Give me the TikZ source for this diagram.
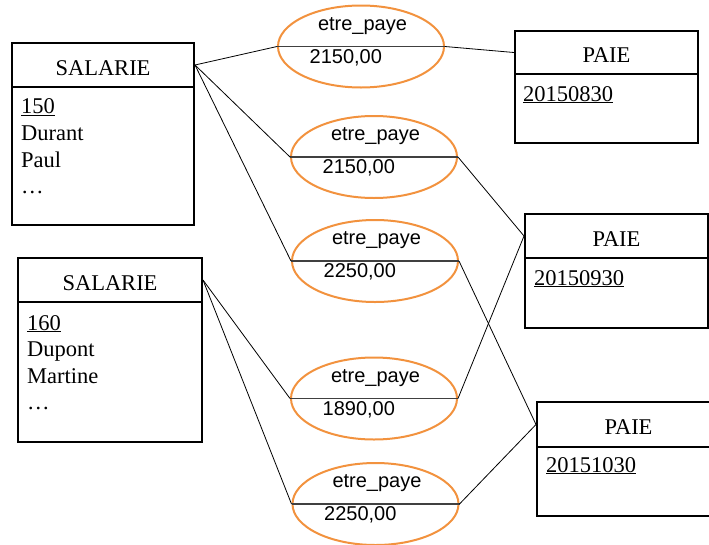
\documentclass[tikz,border=0pt]{standalone}
\usepackage{fontspec}
\setmainfont{Liberation Serif}
\newfontfamily\arialfont{Liberation Sans}
\usetikzlibrary{shapes.geometric}
\definecolor{assoc}{RGB}{242,146,62}
\begin{document}
\begin{tikzpicture}[x=1pt,y=-1pt,
  ent/.style={draw, line width=2pt, inner sep=0pt, text height=20pt, text depth=0pt, font=\fontsize{22.5}{27}\selectfont},
  etxt/.style={inner sep=0pt, anchor=base west, font=\fontsize{22.5}{27}\selectfont},
  rel/.style={ellipse, draw=assoc, line width=2pt, minimum width=166pt, minimum height=82pt, inner sep=0pt},
  rtxt/.style={inner sep=0pt, font=\arialfont\fontsize{20}{24}\selectfont},
  midline/.style={draw=black!75, line width=1.1pt},
  link/.style={draw=black, line width=0.8pt}]
\clip (0,0) rectangle (709,544);

% entity SALARIE 150
\node[ent, minimum width=182pt, minimum height=44pt] (s1) at (103,65) {SALARIE};
\node[ent, minimum width=182pt, minimum height=138pt] (s1b) at (103,156) {};
\node[etxt] (s1k) at (21,113.5) {\underline{150}};
\node[etxt] (s1n) at (21,140) {Durant};
\node[etxt] (s1p) at (21,167) {Paul};
\node[etxt] (s1d) at (21,193.5) {\dots};

% entity SALARIE 160
\node[ent, minimum width=184pt, minimum height=44pt] (s2) at (110,280) {SALARIE};
\node[ent, minimum width=184pt, minimum height=140pt] (s2b) at (110,372) {};
\node[etxt] (s2k) at (27,330) {\underline{160}};
\node[etxt] (s2n) at (27,356.5) {Dupont};
\node[etxt] (s2p) at (27,383) {Martine};
\node[etxt] (s2d) at (27,409.5) {\dots};

% entity PAIE 20150830
\node[ent, minimum width=183pt, minimum height=43pt] (p1) at (606.5,52.5) {PAIE};
\node[ent, minimum width=183pt, minimum height=69pt] (p1b) at (606.5,108.5) {};
\node[etxt] (p1k) at (523,101) {\underline{20150830}};

% entity PAIE 20150930
\node[ent, minimum width=183pt, minimum height=44pt] (p2) at (616.5,236) {PAIE};
\node[ent, minimum width=183pt, minimum height=70pt] (p2b) at (616.5,293) {};
\node[etxt] (p2k) at (534,285) {\underline{20150930}};

% entity PAIE 20151030
\node[ent, minimum width=183pt, minimum height=45pt] (p3) at (628.5,424.5) {PAIE};
\node[ent, minimum width=183pt, minimum height=69pt] (p3b) at (628.5,481.5) {};
\node[etxt] (p3k) at (546,472) {\underline{20151030}};

% association occurrences etre_paye
\node[rel] (e1) at (361,46.5) {};
\node[rel] (e2) at (374,157) {};
\node[rel] (e3) at (375,261) {};
\node[rel] (e4) at (374,398.5) {};
\node[rel] (e5) at (375.5,504) {};

\foreach \e/\cx/\cy/\v in {e1/361/46.5/{2150,00}, e2/374/157/{2150,00}, e3/375/261/{2250,00},
                           e4/374/398.5/{1890,00}, e5/375.5/504/{2250,00}} {
  \draw[midline] (\e.west) -- (\e.east);
  \node[rtxt, anchor=base] (\e n) at (\cx+1.5,\cy-16.5) {etre\_paye};
  \node[rtxt, anchor=base west] (\e v) at (\cx-51.5,\cy+16.7) {\v};
}

% links
\draw[link] (s1.east) -- (e1.west);
\draw[link] (s1.east) -- (e2.west);
\draw[link] (s1.east) -- (e3.west);
\draw[link] (s2.east) -- (e4.west);
\draw[link] (s2.east) -- (e5.west);
\draw[link] (e1.east) -- (p1.west);
\draw[link] (e2.east) -- (p2.west);
\draw[link] (e4.east) -- (p2.west);
\draw[link] (e3.east) -- (p3.west);
\draw[link] (e5.east) -- (p3.west);
\end{tikzpicture}
\end{document}
